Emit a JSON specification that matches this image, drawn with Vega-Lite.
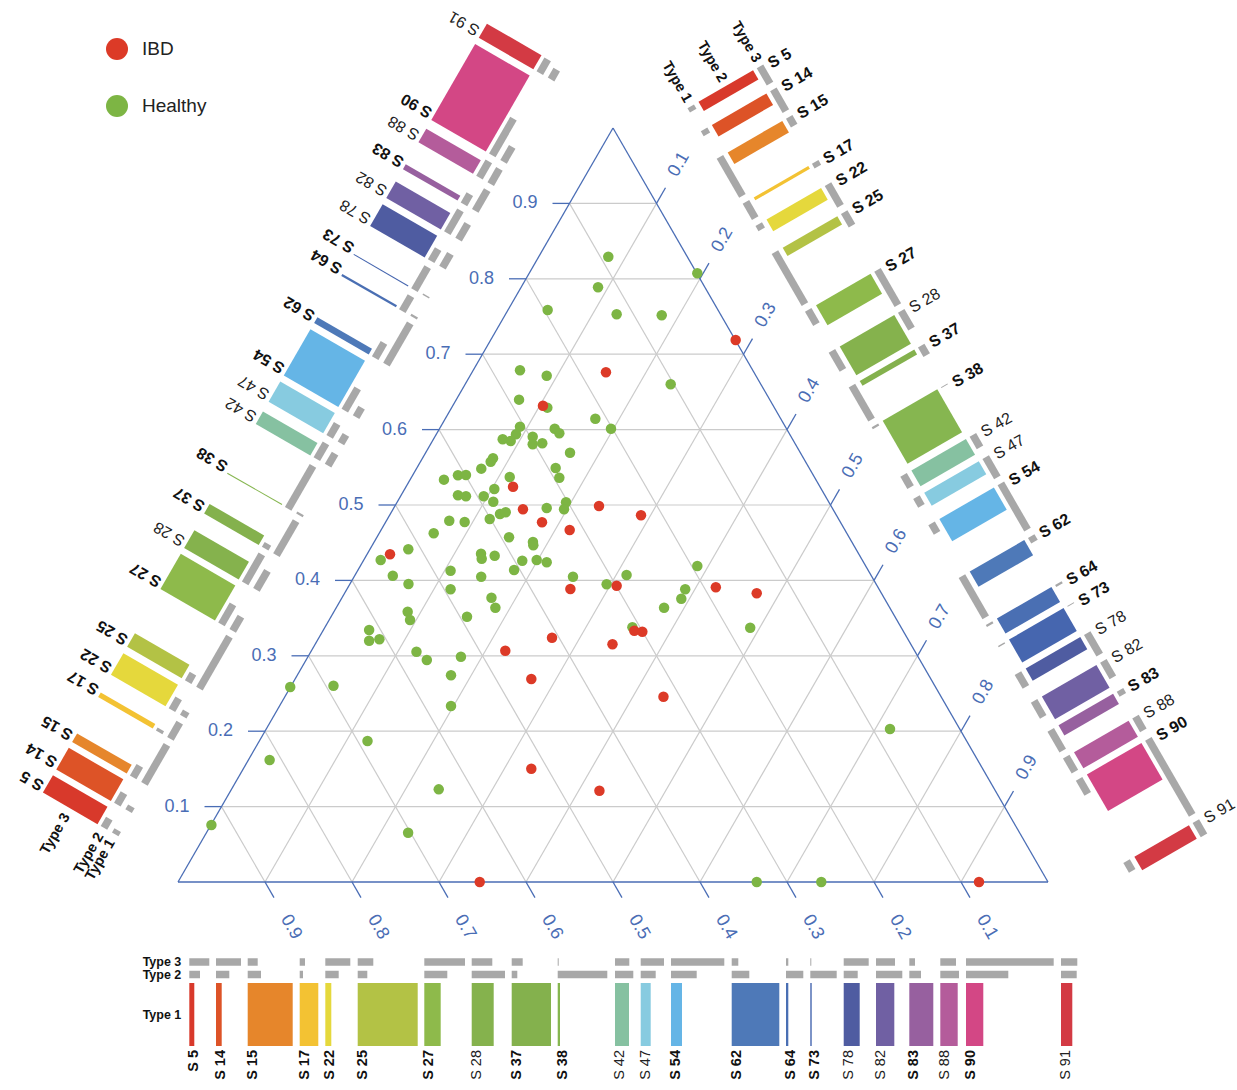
{
"$schema":"https://vega.github.io/schema/vega-lite/v6.json",
"width":1237,"height":1090,"autosize":"none","padding":0,"background":"white",
"config":{"view":{"stroke":null},"font":"Liberation Sans"},
"datasets":{
"grid":[
{"x":0.05,"y":0.1,"x2":0.95,"y2":0.1},{"x":0.1,"y":0.2,"x2":0.9,"y2":0.2},{"x":0.15,"y":0.3,"x2":0.85,"y2":0.3},{"x":0.2,"y":0.4,"x2":0.8,"y2":0.4},{"x":0.25,"y":0.5,"x2":0.75,"y2":0.5},{"x":0.3,"y":0.6,"x2":0.7,"y2":0.6},{"x":0.35,"y":0.7,"x2":0.65,"y2":0.7},{"x":0.4,"y":0.8,"x2":0.6,"y2":0.8},{"x":0.45,"y":0.9,"x2":0.55,"y2":0.9},
{"x":0.1,"y":0,"x2":0.55,"y2":0.9},{"x":0.2,"y":0,"x2":0.6,"y2":0.8},{"x":0.3,"y":0,"x2":0.65,"y2":0.7},{"x":0.4,"y":0,"x2":0.7,"y2":0.6},{"x":0.5,"y":0,"x2":0.75,"y2":0.5},{"x":0.6,"y":0,"x2":0.8,"y2":0.4},{"x":0.7,"y":0,"x2":0.85,"y2":0.3},{"x":0.8,"y":0,"x2":0.9,"y2":0.2},{"x":0.9,"y":0,"x2":0.95,"y2":0.1},
{"x":0.1,"y":0,"x2":0.05,"y2":0.1},{"x":0.2,"y":0,"x2":0.1,"y2":0.2},{"x":0.3,"y":0,"x2":0.15,"y2":0.3},{"x":0.4,"y":0,"x2":0.2,"y2":0.4},{"x":0.5,"y":0,"x2":0.25,"y2":0.5},{"x":0.6,"y":0,"x2":0.3,"y2":0.6},{"x":0.7,"y":0,"x2":0.35,"y2":0.7},{"x":0.8,"y":0,"x2":0.4,"y2":0.8},{"x":0.9,"y":0,"x2":0.45,"y2":0.9}
],
"edges":[{"x":0,"y":0,"x2":1,"y2":0},{"x":0,"y":0,"x2":0.5,"y2":1},{"x":0.5,"y":1,"x2":1,"y2":0}],
"axes":[
{"axis":"L","label":"0.1","x":0.05,"y":0.1,"x2":0.03046,"y2":0.1},{"axis":"L","label":"0.2","x":0.1,"y":0.2,"x2":0.08046,"y2":0.2},{"axis":"L","label":"0.3","x":0.15,"y":0.3,"x2":0.13046,"y2":0.3},{"axis":"L","label":"0.4","x":0.2,"y":0.4,"x2":0.18046,"y2":0.4},{"axis":"L","label":"0.5","x":0.25,"y":0.5,"x2":0.23046,"y2":0.5},{"axis":"L","label":"0.6","x":0.3,"y":0.6,"x2":0.28046,"y2":0.6},{"axis":"L","label":"0.7","x":0.35,"y":0.7,"x2":0.33046,"y2":0.7},{"axis":"L","label":"0.8","x":0.4,"y":0.8,"x2":0.38046,"y2":0.8},{"axis":"L","label":"0.9","x":0.45,"y":0.9,"x2":0.43046,"y2":0.9},
{"axis":"B","label":"0.1","x":0.9,"y":0,"x2":0.91034,"y2":-0.02069},{"axis":"B","label":"0.2","x":0.8,"y":0,"x2":0.81034,"y2":-0.02069},{"axis":"B","label":"0.3","x":0.7,"y":0,"x2":0.71034,"y2":-0.02069},{"axis":"B","label":"0.4","x":0.6,"y":0,"x2":0.61034,"y2":-0.02069},{"axis":"B","label":"0.5","x":0.5,"y":0,"x2":0.51034,"y2":-0.02069},{"axis":"B","label":"0.6","x":0.4,"y":0,"x2":0.41034,"y2":-0.02069},{"axis":"B","label":"0.7","x":0.3,"y":0,"x2":0.31034,"y2":-0.02069},{"axis":"B","label":"0.8","x":0.2,"y":0,"x2":0.21034,"y2":-0.02069},{"axis":"B","label":"0.9","x":0.1,"y":0,"x2":0.11034,"y2":-0.02069},
{"axis":"R","label":"0.1","x":0.55,"y":0.9,"x2":0.56034,"y2":0.92069},{"axis":"R","label":"0.2","x":0.6,"y":0.8,"x2":0.61034,"y2":0.82069},{"axis":"R","label":"0.3","x":0.65,"y":0.7,"x2":0.66034,"y2":0.72069},{"axis":"R","label":"0.4","x":0.7,"y":0.6,"x2":0.71034,"y2":0.62069},{"axis":"R","label":"0.5","x":0.75,"y":0.5,"x2":0.76034,"y2":0.52069},{"axis":"R","label":"0.6","x":0.8,"y":0.4,"x2":0.81034,"y2":0.42069},{"axis":"R","label":"0.7","x":0.85,"y":0.3,"x2":0.86034,"y2":0.32069},{"axis":"R","label":"0.8","x":0.9,"y":0.2,"x2":0.91034,"y2":0.22069},{"axis":"R","label":"0.9","x":0.95,"y":0.1,"x2":0.96034,"y2":0.12069}
],
"points":[
{"group":"Healthy","x":0.4946,"y":0.8293},{"group":"Healthy","x":0.5969,"y":0.8073},{"group":"Healthy","x":0.4828,"y":0.7887},{"group":"Healthy","x":0.4249,"y":0.7586},{"group":"Healthy","x":0.5042,"y":0.7529},{"group":"Healthy","x":0.556,"y":0.7516},{"group":"Healthy","x":0.3931,"y":0.6787},{"group":"Healthy","x":0.4238,"y":0.6715},{"group":"Healthy","x":0.5663,"y":0.6601},{"group":"Healthy","x":0.392,"y":0.6397},
{"group":"Healthy","x":0.4245,"y":0.6291},{"group":"Healthy","x":0.4797,"y":0.6145},{"group":"Healthy","x":0.4977,"y":0.6012},{"group":"Healthy","x":0.3931,"y":0.6039},{"group":"Healthy","x":0.3885,"y":0.5938},{"group":"Healthy","x":0.3732,"y":0.5871},{"group":"Healthy","x":0.3824,"y":0.5849},{"group":"Healthy","x":0.4077,"y":0.5906},{"group":"Healthy","x":0.4077,"y":0.5805},{"group":"Healthy","x":0.4187,"y":0.5818},
{"group":"Healthy","x":0.433,"y":0.6012},{"group":"Healthy","x":0.4383,"y":0.5951},{"group":"Healthy","x":0.4506,"y":0.5694},{"group":"Healthy","x":0.3621,"y":0.5619},{"group":"Healthy","x":0.3594,"y":0.5574},{"group":"Healthy","x":0.3486,"y":0.5482},{"group":"Healthy","x":0.4341,"y":0.5491},{"group":"Healthy","x":0.4383,"y":0.5362},{"group":"Healthy","x":0.3057,"y":0.5336},{"group":"Healthy","x":0.3218,"y":0.5394},
{"group":"Healthy","x":0.331,"y":0.5398},{"group":"Healthy","x":0.3813,"y":0.5371},{"group":"Healthy","x":0.3218,"y":0.5129},{"group":"Healthy","x":0.331,"y":0.5116},{"group":"Healthy","x":0.3514,"y":0.5116},{"group":"Healthy","x":0.3636,"y":0.5212},{"group":"Healthy","x":0.3624,"y":0.5044},{"group":"Healthy","x":0.4238,"y":0.496},{"group":"Healthy","x":0.446,"y":0.5036},{"group":"Healthy","x":0.4437,"y":0.4943},
{"group":"Healthy","x":0.3701,"y":0.4881},{"group":"Healthy","x":0.3767,"y":0.4903},{"group":"Healthy","x":0.3583,"y":0.4814},{"group":"Healthy","x":0.3118,"y":0.4792},{"group":"Healthy","x":0.3295,"y":0.4775},{"group":"Healthy","x":0.2939,"y":0.4625},{"group":"Healthy","x":0.2647,"y":0.4413},{"group":"Healthy","x":0.233,"y":0.4271},{"group":"Healthy","x":0.3805,"y":0.4572},{"group":"Healthy","x":0.408,"y":0.4509},
{"group":"Healthy","x":0.4084,"y":0.4466},{"group":"Healthy","x":0.3483,"y":0.4354},{"group":"Healthy","x":0.3491,"y":0.4288},{"group":"Healthy","x":0.364,"y":0.4328},{"group":"Healthy","x":0.3957,"y":0.4261},{"group":"Healthy","x":0.4123,"y":0.4271},{"group":"Healthy","x":0.4238,"y":0.424},{"group":"Healthy","x":0.5969,"y":0.4191},{"group":"Healthy","x":0.3133,"y":0.4129},{"group":"Healthy","x":0.2469,"y":0.4062},
{"group":"Healthy","x":0.2649,"y":0.3952},{"group":"Healthy","x":0.3133,"y":0.3882},{"group":"Healthy","x":0.3485,"y":0.4049},{"group":"Healthy","x":0.3863,"y":0.4138},{"group":"Healthy","x":0.454,"y":0.4049},{"group":"Healthy","x":0.5156,"y":0.4072},{"group":"Healthy","x":0.4927,"y":0.3948},{"group":"Healthy","x":0.583,"y":0.3882},{"group":"Healthy","x":0.5785,"y":0.3757},{"group":"Healthy","x":0.5587,"y":0.3638},
{"group":"Healthy","x":0.3603,"y":0.3771},{"group":"Healthy","x":0.3648,"y":0.3638},{"group":"Healthy","x":0.3322,"y":0.3519},{"group":"Healthy","x":0.264,"y":0.3585},{"group":"Healthy","x":0.2667,"y":0.3475},{"group":"Healthy","x":0.2197,"y":0.3342},{"group":"Healthy","x":0.2197,"y":0.32},{"group":"Healthy","x":0.2315,"y":0.3219},{"group":"Healthy","x":0.2741,"y":0.3054},{"group":"Healthy","x":0.286,"y":0.2944},
{"group":"Healthy","x":0.3252,"y":0.2988},{"group":"Healthy","x":0.5223,"y":0.3378},{"group":"Healthy","x":0.6577,"y":0.3373},{"group":"Healthy","x":0.129,"y":0.2586},{"group":"Healthy","x":0.1787,"y":0.2603},{"group":"Healthy","x":0.3138,"y":0.2741},{"group":"Healthy","x":0.3138,"y":0.2334},{"group":"Healthy","x":0.2178,"y":0.187},{"group":"Healthy","x":0.1053,"y":0.1618},{"group":"Healthy","x":0.2997,"y":0.1229},
{"group":"Healthy","x":0.0384,"y":0.0756},{"group":"Healthy","x":0.2645,"y":0.0654},{"group":"Healthy","x":0.6652,"y":0},{"group":"Healthy","x":0.7394,"y":0},{"group":"Healthy","x":0.8184,"y":0.2029},
{"group":"IBD","x":0.4919,"y":0.676},{"group":"IBD","x":0.4195,"y":0.6317},{"group":"IBD","x":0.3851,"y":0.5243},{"group":"IBD","x":0.3965,"y":0.4943},{"group":"IBD","x":0.4184,"y":0.4771},{"group":"IBD","x":0.4502,"y":0.4668},{"group":"IBD","x":0.4839,"y":0.4987},{"group":"IBD","x":0.5322,"y":0.4864},{"group":"IBD","x":0.2437,"y":0.4346},{"group":"IBD","x":0.641,"y":0.7189},
{"group":"IBD","x":0.451,"y":0.3886},{"group":"IBD","x":0.5042,"y":0.393},{"group":"IBD","x":0.6182,"y":0.3909},{"group":"IBD","x":0.6652,"y":0.3829},{"group":"IBD","x":0.5245,"y":0.3333},{"group":"IBD","x":0.5337,"y":0.332},{"group":"IBD","x":0.4299,"y":0.324},{"group":"IBD","x":0.4994,"y":0.3153},{"group":"IBD","x":0.3762,"y":0.3068},{"group":"IBD","x":0.4061,"y":0.2692},
{"group":"IBD","x":0.558,"y":0.2458},{"group":"IBD","x":0.4061,"y":0.1503},{"group":"IBD","x":0.4844,"y":0.1211},{"group":"IBD","x":0.3468,"y":0},{"group":"IBD","x":0.9207,"y":0}
],
"bars":[
{"side":"B","sample":"S 5","type":"Type 1","x":0.01299,"y":-0.17573,"x2":0.01873,"y2":-0.17573},{"side":"B","sample":"S 5","type":"Type 2","x":0.01299,"y":-0.12268,"x2":0.02529,"y2":-0.12268},{"side":"B","sample":"S 5","type":"Type 3","x":0.01299,"y":-0.1061,"x2":0.03598,"y2":-0.1061},
{"side":"B","sample":"S 14","type":"Type 1","x":0.04368,"y":-0.17573,"x2":0.05023,"y2":-0.17573},{"side":"B","sample":"S 14","type":"Type 2","x":0.04368,"y":-0.12268,"x2":0.05896,"y2":-0.12268},{"side":"B","sample":"S 14","type":"Type 3","x":0.04368,"y":-0.1061,"x2":0.07241,"y2":-0.1061},
{"side":"B","sample":"S 15","type":"Type 1","x":0.08011,"y":-0.17573,"x2":0.13184,"y2":-0.17573},{"side":"B","sample":"S 15","type":"Type 2","x":0.08011,"y":-0.12268,"x2":0.0954,"y2":-0.12268},{"side":"B","sample":"S 15","type":"Type 3","x":0.08011,"y":-0.1061,"x2":0.09161,"y2":-0.1061},
{"side":"B","sample":"S 17","type":"Type 1","x":0.13988,"y":-0.17573,"x2":0.16126,"y2":-0.17573},{"side":"B","sample":"S 17","type":"Type 2","x":0.13988,"y":-0.12268,"x2":0.14368,"y2":-0.12268},{"side":"B","sample":"S 17","type":"Type 3","x":0.13988,"y":-0.1061,"x2":0.14598,"y2":-0.1061},
{"side":"B","sample":"S 22","type":"Type 1","x":0.16931,"y":-0.17573,"x2":0.17621,"y2":-0.17573},{"side":"B","sample":"S 22","type":"Type 2","x":0.16931,"y":-0.12268,"x2":0.18471,"y2":-0.12268},{"side":"B","sample":"S 22","type":"Type 3","x":0.16931,"y":-0.1061,"x2":0.19805,"y2":-0.1061},
{"side":"B","sample":"S 25","type":"Type 1","x":0.20655,"y":-0.17573,"x2":0.27552,"y2":-0.17573},{"side":"B","sample":"S 25","type":"Type 2","x":0.20655,"y":-0.12268,"x2":0.21759,"y2":-0.12268},{"side":"B","sample":"S 25","type":"Type 3","x":0.20655,"y":-0.1061,"x2":0.22448,"y2":-0.1061},
{"side":"B","sample":"S 27","type":"Type 1","x":0.2831,"y":-0.17573,"x2":0.30195,"y2":-0.17573},{"side":"B","sample":"S 27","type":"Type 2","x":0.2831,"y":-0.12268,"x2":0.30954,"y2":-0.12268},{"side":"B","sample":"S 27","type":"Type 3","x":0.2831,"y":-0.1061,"x2":0.32988,"y2":-0.1061},
{"side":"B","sample":"S 28","type":"Type 1","x":0.33759,"y":-0.17573,"x2":0.36287,"y2":-0.17573},{"side":"B","sample":"S 28","type":"Type 2","x":0.33759,"y":-0.12268,"x2":0.37586,"y2":-0.12268},{"side":"B","sample":"S 28","type":"Type 3","x":0.33759,"y":-0.1061,"x2":0.36126,"y2":-0.1061},
{"side":"B","sample":"S 37","type":"Type 1","x":0.38356,"y":-0.17573,"x2":0.42874,"y2":-0.17573},{"side":"B","sample":"S 37","type":"Type 2","x":0.38356,"y":-0.12268,"x2":0.39,"y2":-0.12268},{"side":"B","sample":"S 37","type":"Type 3","x":0.38356,"y":-0.1061,"x2":0.39621,"y2":-0.1061},
{"side":"B","sample":"S 38","type":"Type 1","x":0.43644,"y":-0.17573,"x2":0.43908,"y2":-0.17573},{"side":"B","sample":"S 38","type":"Type 2","x":0.43644,"y":-0.12268,"x2":0.49345,"y2":-0.12268},{"side":"B","sample":"S 38","type":"Type 3","x":0.43644,"y":-0.1061,"x2":0.43759,"y2":-0.1061},
{"side":"B","sample":"S 42","type":"Type 1","x":0.5023,"y":-0.17573,"x2":0.51839,"y2":-0.17573},{"side":"B","sample":"S 42","type":"Type 2","x":0.5023,"y":-0.12268,"x2":0.52333,"y2":-0.12268},{"side":"B","sample":"S 42","type":"Type 3","x":0.5023,"y":-0.1061,"x2":0.51874,"y2":-0.1061},
{"side":"B","sample":"S 47","type":"Type 1","x":0.53184,"y":-0.17573,"x2":0.54333,"y2":-0.17573},{"side":"B","sample":"S 47","type":"Type 2","x":0.53184,"y":-0.12268,"x2":0.54908,"y2":-0.12268},{"side":"B","sample":"S 47","type":"Type 3","x":0.53184,"y":-0.1061,"x2":0.55862,"y2":-0.1061},
{"side":"B","sample":"S 54","type":"Type 1","x":0.56667,"y":-0.17573,"x2":0.57931,"y2":-0.17573},{"side":"B","sample":"S 54","type":"Type 2","x":0.56667,"y":-0.12268,"x2":0.59621,"y2":-0.12268},{"side":"B","sample":"S 54","type":"Type 3","x":0.56667,"y":-0.1061,"x2":0.62793,"y2":-0.1061},
{"side":"B","sample":"S 62","type":"Type 1","x":0.63644,"y":-0.17573,"x2":0.69115,"y2":-0.17573},{"side":"B","sample":"S 62","type":"Type 2","x":0.63644,"y":-0.12268,"x2":0.65667,"y2":-0.12268},{"side":"B","sample":"S 62","type":"Type 3","x":0.63644,"y":-0.1061,"x2":0.64402,"y2":-0.1061},
{"side":"B","sample":"S 64","type":"Type 1","x":0.69885,"y":-0.17573,"x2":0.7015,"y2":-0.17573},{"side":"B","sample":"S 64","type":"Type 2","x":0.69885,"y":-0.12268,"x2":0.71874,"y2":-0.12268},{"side":"B","sample":"S 64","type":"Type 3","x":0.69885,"y":-0.1061,"x2":0.7015,"y2":-0.1061},
{"side":"B","sample":"S 73","type":"Type 1","x":0.72678,"y":-0.17573,"x2":0.72839,"y2":-0.17573},{"side":"B","sample":"S 73","type":"Type 2","x":0.72678,"y":-0.12268,"x2":0.75713,"y2":-0.12268},{"side":"B","sample":"S 73","type":"Type 3","x":0.72678,"y":-0.1061,"x2":0.72793,"y2":-0.1061},
{"side":"B","sample":"S 78","type":"Type 1","x":0.76517,"y":-0.17573,"x2":0.78357,"y2":-0.17573},{"side":"B","sample":"S 78","type":"Type 2","x":0.76517,"y":-0.12268,"x2":0.78127,"y2":-0.12268},{"side":"B","sample":"S 78","type":"Type 3","x":0.76517,"y":-0.1061,"x2":0.79391,"y2":-0.1061},
{"side":"B","sample":"S 82","type":"Type 1","x":0.8023,"y":-0.17573,"x2":0.82334,"y2":-0.17573},{"side":"B","sample":"S 82","type":"Type 2","x":0.8023,"y":-0.12268,"x2":0.83253,"y2":-0.12268},{"side":"B","sample":"S 82","type":"Type 3","x":0.8023,"y":-0.1061,"x2":0.82414,"y2":-0.1061},
{"side":"B","sample":"S 83","type":"Type 1","x":0.84058,"y":-0.17573,"x2":0.86816,"y2":-0.17573},{"side":"B","sample":"S 83","type":"Type 2","x":0.84058,"y":-0.12268,"x2":0.85402,"y2":-0.12268},{"side":"B","sample":"S 83","type":"Type 3","x":0.84058,"y":-0.1061,"x2":0.84713,"y2":-0.1061},
{"side":"B","sample":"S 88","type":"Type 1","x":0.87621,"y":-0.17573,"x2":0.89621,"y2":-0.17573},{"side":"B","sample":"S 88","type":"Type 2","x":0.87621,"y":-0.12268,"x2":0.8977,"y2":-0.12268},{"side":"B","sample":"S 88","type":"Type 3","x":0.87621,"y":-0.1061,"x2":0.89425,"y2":-0.1061},
{"side":"B","sample":"S 90","type":"Type 1","x":0.90575,"y":-0.17573,"x2":0.92563,"y2":-0.17573},{"side":"B","sample":"S 90","type":"Type 2","x":0.90575,"y":-0.12268,"x2":0.95437,"y2":-0.12268},{"side":"B","sample":"S 90","type":"Type 3","x":0.90575,"y":-0.1061,"x2":1.00655,"y2":-0.1061},
{"side":"B","sample":"S 91","type":"Type 1","x":1.01495,"y":-0.17573,"x2":1.02793,"y2":-0.17573},{"side":"B","sample":"S 91","type":"Type 2","x":1.01495,"y":-0.12268,"x2":1.03299,"y2":-0.12268},{"side":"B","sample":"S 91","type":"Type 3","x":1.01495,"y":-0.1061,"x2":1.03368,"y2":-0.1061},

{"side":"L","sample":"S 5","type":"Type 1","x":-0.07216,"y":0.06317,"x2":-0.06928,"y2":0.06891},{"side":"L","sample":"S 5","type":"Type 2","x":-0.08511,"y":0.07179,"x2":-0.07896,"y2":0.08408},{"side":"L","sample":"S 5","type":"Type 3","x":-0.12391,"y":0.09765,"x2":-0.11241,"y2":0.12062},
{"side":"L","sample":"S 14","type":"Type 1","x":-0.05681,"y":0.09384,"x2":-0.05354,"y2":0.10038},{"side":"L","sample":"S 14","type":"Type 2","x":-0.06976,"y":0.10246,"x2":-0.06212,"y2":0.11773},{"side":"L","sample":"S 14","type":"Type 3","x":-0.10856,"y":0.12832,"x2":-0.09419,"y2":0.15703},
{"side":"L","sample":"S 15","type":"Type 1","x":-0.03859,"y":0.13024,"x2":-0.01273,"y2":0.18193},{"side":"L","sample":"S 15","type":"Type 2","x":-0.05154,"y":0.13886,"x2":-0.0439,"y2":0.15414},{"side":"L","sample":"S 15","type":"Type 3","x":-0.09034,"y":0.16472,"x2":-0.0846,"y2":0.17621},
{"side":"L","sample":"S 17","type":"Type 1","x":-0.00871,"y":0.18996,"x2":0.00198,"y2":0.21132},{"side":"L","sample":"S 17","type":"Type 2","x":-0.02166,"y":0.19858,"x2":-0.01976,"y2":0.20238},{"side":"L","sample":"S 17","type":"Type 3","x":-0.06046,"y":0.22444,"x2":-0.05741,"y2":0.23054},
{"side":"L","sample":"S 22","type":"Type 1","x":0.00601,"y":0.21937,"x2":0.00945,"y2":0.22626},{"side":"L","sample":"S 22","type":"Type 2","x":-0.00694,"y":0.22799,"x2":0.00076,"y2":0.24338},{"side":"L","sample":"S 22","type":"Type 3","x":-0.04574,"y":0.25385,"x2":-0.03138,"y2":0.28256},
{"side":"L","sample":"S 25","type":"Type 1","x":0.02463,"y":0.25658,"x2":0.05911,"y2":0.32549},{"side":"L","sample":"S 25","type":"Type 2","x":0.01168,"y":0.2652,"x2":0.01719,"y2":0.27623},{"side":"L","sample":"S 25","type":"Type 3","x":-0.02712,"y":0.29106,"x2":-0.01816,"y2":0.30897},
{"side":"L","sample":"S 27","type":"Type 1","x":0.0629,"y":0.33307,"x2":0.07233,"y2":0.3519},{"side":"L","sample":"S 27","type":"Type 2","x":0.04995,"y":0.34169,"x2":0.06317,"y2":0.3681},{"side":"L","sample":"S 27","type":"Type 3","x":0.01115,"y":0.36755,"x2":0.03454,"y2":0.41429},
{"side":"L","sample":"S 28","type":"Type 1","x":0.09014,"y":0.38751,"x2":0.10279,"y2":0.41277},{"side":"L","sample":"S 28","type":"Type 2","x":0.07719,"y":0.39613,"x2":0.09633,"y2":0.43437},{"side":"L","sample":"S 28","type":"Type 3","x":0.03839,"y":0.42199,"x2":0.05023,"y2":0.44564},
{"side":"L","sample":"S 37","type":"Type 1","x":0.11313,"y":0.43344,"x2":0.13572,"y2":0.47859},{"side":"L","sample":"S 37","type":"Type 2","x":0.10018,"y":0.44206,"x2":0.1034,"y2":0.4485},{"side":"L","sample":"S 37","type":"Type 3","x":0.06138,"y":0.46792,"x2":0.0677,"y2":0.48056},
{"side":"L","sample":"S 38","type":"Type 1","x":0.13957,"y":0.48628,"x2":0.14089,"y2":0.48892},{"side":"L","sample":"S 38","type":"Type 2","x":0.12662,"y":0.4949,"x2":0.15512,"y2":0.55187},{"side":"L","sample":"S 38","type":"Type 3","x":0.08782,"y":0.52076,"x2":0.08839,"y2":0.52191},
{"side":"L","sample":"S 42","type":"Type 1","x":0.1725,"y":0.55209,"x2":0.18055,"y2":0.56817},{"side":"L","sample":"S 42","type":"Type 2","x":0.15955,"y":0.56071,"x2":0.17007,"y2":0.58172},{"side":"L","sample":"S 42","type":"Type 3","x":0.12075,"y":0.58657,"x2":0.12897,"y2":0.60299},
{"side":"L","sample":"S 47","type":"Type 1","x":0.18727,"y":0.5816,"x2":0.19302,"y2":0.59309},{"side":"L","sample":"S 47","type":"Type 2","x":0.17432,"y":0.59022,"x2":0.18294,"y2":0.60745},{"side":"L","sample":"S 47","type":"Type 3","x":0.13552,"y":0.61608,"x2":0.14891,"y2":0.64284},
{"side":"L","sample":"S 54","type":"Type 1","x":0.20468,"y":0.61641,"x2":0.21101,"y2":0.62904},{"side":"L","sample":"S 54","type":"Type 2","x":0.19173,"y":0.62503,"x2":0.2065,"y2":0.65454},{"side":"L","sample":"S 54","type":"Type 3","x":0.15293,"y":0.65089,"x2":0.18357,"y2":0.7121},
{"side":"L","sample":"S 62","type":"Type 1","x":0.23957,"y":0.68612,"x2":0.26693,"y2":0.74079},{"side":"L","sample":"S 62","type":"Type 2","x":0.22662,"y":0.69474,"x2":0.23673,"y2":0.71495},{"side":"L","sample":"S 62","type":"Type 3","x":0.18782,"y":0.7206,"x2":0.19161,"y2":0.72817},
{"side":"L","sample":"S 64","type":"Type 1","x":0.27078,"y":0.74848,"x2":0.2721,"y2":0.75113},{"side":"L","sample":"S 64","type":"Type 2","x":0.25783,"y":0.7571,"x2":0.26777,"y2":0.77697},{"side":"L","sample":"S 64","type":"Type 3","x":0.21903,"y":0.78296,"x2":0.22035,"y2":0.78561},
{"side":"L","sample":"S 73","type":"Type 1","x":0.28474,"y":0.77639,"x2":0.28555,"y2":0.778},{"side":"L","sample":"S 73","type":"Type 2","x":0.27179,"y":0.78501,"x2":0.28697,"y2":0.81533},{"side":"L","sample":"S 73","type":"Type 3","x":0.23299,"y":0.81087,"x2":0.23357,"y2":0.81202},
{"side":"L","sample":"S 78","type":"Type 1","x":0.30394,"y":0.81475,"x2":0.31313,"y2":0.83313},{"side":"L","sample":"S 78","type":"Type 2","x":0.29099,"y":0.82337,"x2":0.29903,"y2":0.83945},{"side":"L","sample":"S 78","type":"Type 3","x":0.25219,"y":0.84923,"x2":0.26656,"y2":0.87794},
{"side":"L","sample":"S 82","type":"Type 1","x":0.3225,"y":0.85185,"x2":0.33302,"y2":0.87287},{"side":"L","sample":"S 82","type":"Type 2","x":0.30955,"y":0.86047,"x2":0.32467,"y2":0.89067},{"side":"L","sample":"S 82","type":"Type 3","x":0.27075,"y":0.88633,"x2":0.28167,"y2":0.90815},
{"side":"L","sample":"S 83","type":"Type 1","x":0.34164,"y":0.89009,"x2":0.35543,"y2":0.91765},{"side":"L","sample":"S 83","type":"Type 2","x":0.32869,"y":0.89871,"x2":0.33541,"y2":0.91215},{"side":"L","sample":"S 83","type":"Type 3","x":0.28989,"y":0.92457,"x2":0.29316,"y2":0.93112},
{"side":"L","sample":"S 88","type":"Type 1","x":0.35945,"y":0.9257,"x2":0.36945,"y2":0.94568},{"side":"L","sample":"S 88","type":"Type 2","x":0.3465,"y":0.93432,"x2":0.35725,"y2":0.95579},{"side":"L","sample":"S 88","type":"Type 3","x":0.3077,"y":0.96018,"x2":0.31673,"y2":0.97821},
{"side":"L","sample":"S 90","type":"Type 1","x":0.37422,"y":0.95521,"x2":0.38417,"y2":0.97508},{"side":"L","sample":"S 90","type":"Type 2","x":0.36127,"y":0.96383,"x2":0.38559,"y2":1.01241},{"side":"L","sample":"S 90","type":"Type 3","x":0.32247,"y":0.98969,"x2":0.37288,"y2":1.09041},
{"side":"L","sample":"S 91","type":"Type 1","x":0.42882,"y":1.06432,"x2":0.43532,"y2":1.07729},{"side":"L","sample":"S 91","type":"Type 2","x":0.41587,"y":1.07294,"x2":0.4249,"y2":1.09097},{"side":"L","sample":"S 91","type":"Type 3","x":0.37707,"y":1.0988,"x2":0.38644,"y2":1.11752},

{"side":"R","sample":"S 5","type":"Type 1","x":0.58933,"y":1.02874,"x2":0.59221,"y2":1.023},{"side":"R","sample":"S 5","type":"Type 2","x":0.62964,"y":1.0556,"x2":0.63579,"y2":1.04331},{"side":"R","sample":"S 5","type":"Type 3","x":0.66896,"y":1.08179,"x2":0.68046,"y2":1.05882},
{"side":"R","sample":"S 14","type":"Type 1","x":0.60468,"y":0.99807,"x2":0.60795,"y2":0.99153},{"side":"R","sample":"S 14","type":"Type 2","x":0.64499,"y":1.02493,"x2":0.65263,"y2":1.00966},{"side":"R","sample":"S 14","type":"Type 3","x":0.68431,"y":1.05112,"x2":0.69868,"y2":1.02241},
{"side":"R","sample":"S 15","type":"Type 1","x":0.6229,"y":0.96167,"x2":0.64876,"y2":0.90998},{"side":"R","sample":"S 15","type":"Type 2","x":0.66321,"y":0.98853,"x2":0.67085,"y2":0.97325},{"side":"R","sample":"S 15","type":"Type 3","x":0.70253,"y":1.01472,"x2":0.70827,"y2":1.00323},
{"side":"R","sample":"S 17","type":"Type 1","x":0.65278,"y":0.90195,"x2":0.66347,"y2":0.88059},{"side":"R","sample":"S 17","type":"Type 2","x":0.69309,"y":0.92881,"x2":0.69499,"y2":0.92501},{"side":"R","sample":"S 17","type":"Type 3","x":0.73241,"y":0.955,"x2":0.73546,"y2":0.9489},
{"side":"R","sample":"S 22","type":"Type 1","x":0.6675,"y":0.87254,"x2":0.67094,"y2":0.86565},{"side":"R","sample":"S 22","type":"Type 2","x":0.70781,"y":0.8994,"x2":0.71551,"y2":0.88401},{"side":"R","sample":"S 22","type":"Type 3","x":0.74713,"y":0.92559,"x2":0.76149,"y2":0.89688},
{"side":"R","sample":"S 25","type":"Type 1","x":0.68612,"y":0.83533,"x2":0.7206,"y2":0.76642},{"side":"R","sample":"S 25","type":"Type 2","x":0.72643,"y":0.86219,"x2":0.73194,"y2":0.85116},{"side":"R","sample":"S 25","type":"Type 3","x":0.76575,"y":0.88838,"x2":0.77471,"y2":0.87047},
{"side":"R","sample":"S 27","type":"Type 1","x":0.72439,"y":0.75884,"x2":0.73382,"y2":0.74001},{"side":"R","sample":"S 27","type":"Type 2","x":0.7647,"y":0.7857,"x2":0.77792,"y2":0.75929},{"side":"R","sample":"S 27","type":"Type 3","x":0.80402,"y":0.81189,"x2":0.82741,"y2":0.76515},
{"side":"R","sample":"S 28","type":"Type 1","x":0.75163,"y":0.7044,"x2":0.76428,"y2":0.67914},{"side":"R","sample":"S 28","type":"Type 2","x":0.79194,"y":0.73126,"x2":0.81108,"y2":0.69302},{"side":"R","sample":"S 28","type":"Type 3","x":0.83126,"y":0.75745,"x2":0.8431,"y2":0.7338},
{"side":"R","sample":"S 37","type":"Type 1","x":0.77462,"y":0.65847,"x2":0.79721,"y2":0.61332},{"side":"R","sample":"S 37","type":"Type 2","x":0.81493,"y":0.68533,"x2":0.81815,"y2":0.67889},{"side":"R","sample":"S 37","type":"Type 3","x":0.85425,"y":0.71152,"x2":0.86057,"y2":0.69888},
{"side":"R","sample":"S 38","type":"Type 1","x":0.80106,"y":0.60563,"x2":0.80238,"y2":0.60299},{"side":"R","sample":"S 38","type":"Type 2","x":0.84137,"y":0.63249,"x2":0.86987,"y2":0.57552},{"side":"R","sample":"S 38","type":"Type 3","x":0.88069,"y":0.65868,"x2":0.88126,"y2":0.65753},
{"side":"R","sample":"S 42","type":"Type 1","x":0.83399,"y":0.53982,"x2":0.84204,"y2":0.52374},{"side":"R","sample":"S 42","type":"Type 2","x":0.8743,"y":0.56668,"x2":0.88482,"y2":0.54567},{"side":"R","sample":"S 42","type":"Type 3","x":0.91362,"y":0.59287,"x2":0.92184,"y2":0.57645},
{"side":"R","sample":"S 47","type":"Type 1","x":0.84876,"y":0.51031,"x2":0.85451,"y2":0.49882},{"side":"R","sample":"S 47","type":"Type 2","x":0.88907,"y":0.53717,"x2":0.89769,"y2":0.51994},{"side":"R","sample":"S 47","type":"Type 3","x":0.92839,"y":0.56336,"x2":0.94178,"y2":0.5366},
{"side":"R","sample":"S 54","type":"Type 1","x":0.86617,"y":0.4755,"x2":0.8725,"y2":0.46287},{"side":"R","sample":"S 54","type":"Type 2","x":0.90648,"y":0.50236,"x2":0.92125,"y2":0.47285},{"side":"R","sample":"S 54","type":"Type 3","x":0.9458,"y":0.52855,"x2":0.97644,"y2":0.46734},
{"side":"R","sample":"S 62","type":"Type 1","x":0.90106,"y":0.40579,"x2":0.92842,"y2":0.35112},{"side":"R","sample":"S 62","type":"Type 2","x":0.94137,"y":0.43265,"x2":0.95148,"y2":0.41244},{"side":"R","sample":"S 62","type":"Type 3","x":0.98069,"y":0.45884,"x2":0.98448,"y2":0.45127},
{"side":"R","sample":"S 64","type":"Type 1","x":0.93227,"y":0.34343,"x2":0.93359,"y2":0.34078},{"side":"R","sample":"S 64","type":"Type 2","x":0.97258,"y":0.37029,"x2":0.98252,"y2":0.35042},{"side":"R","sample":"S 64","type":"Type 3","x":1.0119,"y":0.39648,"x2":1.01322,"y2":0.39383},
{"side":"R","sample":"S 73","type":"Type 1","x":0.94623,"y":0.31552,"x2":0.94704,"y2":0.31391},{"side":"R","sample":"S 73","type":"Type 2","x":0.98654,"y":0.34238,"x2":1.00172,"y2":0.31206},{"side":"R","sample":"S 73","type":"Type 3","x":1.02586,"y":0.36857,"x2":1.02644,"y2":0.36742},
{"side":"R","sample":"S 78","type":"Type 1","x":0.96543,"y":0.27716,"x2":0.97462,"y2":0.25878},{"side":"R","sample":"S 78","type":"Type 2","x":1.00574,"y":0.30402,"x2":1.01378,"y2":0.28794},{"side":"R","sample":"S 78","type":"Type 3","x":1.04506,"y":0.33021,"x2":1.05943,"y2":0.3015},
{"side":"R","sample":"S 82","type":"Type 1","x":0.98399,"y":0.24006,"x2":0.99451,"y2":0.21904},{"side":"R","sample":"S 82","type":"Type 2","x":1.0243,"y":0.26692,"x2":1.03942,"y2":0.23672},{"side":"R","sample":"S 82","type":"Type 3","x":1.06362,"y":0.29311,"x2":1.07454,"y2":0.27129},
{"side":"R","sample":"S 83","type":"Type 1","x":1.00313,"y":0.20182,"x2":1.01692,"y2":0.17426},{"side":"R","sample":"S 83","type":"Type 2","x":1.04344,"y":0.22868,"x2":1.05016,"y2":0.21524},{"side":"R","sample":"S 83","type":"Type 3","x":1.08276,"y":0.25487,"x2":1.08603,"y2":0.24832},
{"side":"R","sample":"S 88","type":"Type 1","x":1.02094,"y":0.16621,"x2":1.03094,"y2":0.14623},{"side":"R","sample":"S 88","type":"Type 2","x":1.06125,"y":0.19307,"x2":1.072,"y2":0.1716},{"side":"R","sample":"S 88","type":"Type 3","x":1.10057,"y":0.21926,"x2":1.1096,"y2":0.20123},
{"side":"R","sample":"S 90","type":"Type 1","x":1.03571,"y":0.1367,"x2":1.04566,"y2":0.11683},{"side":"R","sample":"S 90","type":"Type 2","x":1.07602,"y":0.16356,"x2":1.10034,"y2":0.11498},{"side":"R","sample":"S 90","type":"Type 3","x":1.11534,"y":0.18975,"x2":1.16575,"y2":0.08903},
{"side":"R","sample":"S 91","type":"Type 1","x":1.09031,"y":0.02759,"x2":1.09681,"y2":0.01462},{"side":"R","sample":"S 91","type":"Type 2","x":1.13062,"y":0.05445,"x2":1.13965,"y2":0.03642},{"side":"R","sample":"S 91","type":"Type 3","x":1.16994,"y":0.08064,"x2":1.17931,"y2":0.06192}
]
},
"encoding":{
"x":{"field":"x","type":"quantitative","scale":{"domain":[-0.2046,1.21724],"nice":false,"zero":false},"axis":null},
"y":{"field":"y","type":"quantitative","scale":{"domain":[-0.27586,1.16976],"nice":false,"zero":false},"axis":null}
},
"layer":[
{"data":{"name":"grid"},"mark":{"type":"rule","color":"#cbcbcb","strokeWidth":1.2},"encoding":{"x2":{"field":"x2"},"y2":{"field":"y2"}}},
{"data":{"name":"edges"},"mark":{"type":"rule","color":"#4a6db5","strokeWidth":1.3},"encoding":{"x2":{"field":"x2"},"y2":{"field":"y2"}}},
{"data":{"name":"axes"},"mark":{"type":"rule","color":"#4a6db5","strokeWidth":1.3},"encoding":{"x2":{"field":"x2"},"y2":{"field":"y2"}}},
{"data":{"name":"axes"},"transform":[{"filter":"datum.axis==='L'"}],"mark":{"type":"text","align":"right","baseline":"middle","dx":-32,"fontSize":18,"color":"#4a6db5"},"encoding":{"text":{"field":"label"}}},
{"data":{"name":"axes"},"transform":[{"filter":"datum.axis==='B'"}],"mark":{"type":"text","align":"center","baseline":"middle","angle":60,"dx":52,"fontSize":18,"color":"#4a6db5"},"encoding":{"text":{"field":"label"}}},
{"data":{"name":"axes"},"transform":[{"filter":"datum.axis==='R'"}],"mark":{"type":"text","align":"center","baseline":"middle","angle":300,"dx":45,"fontSize":18,"color":"#4a6db5"},"encoding":{"text":{"field":"label"}}},
{"data":{"name":"points"},"mark":{"type":"circle","size":110,"opacity":1},"encoding":{"color":{"field":"group","type":"nominal","scale":{"domain":["IBD","Healthy"],"range":["#dc3a27","#7db544"]},"legend":{"title":null,"orient":"none","legendX":106,"legendY":38,"symbolSize":484,"symbolType":"circle","symbolStrokeWidth":0,"labelFontSize":19,"labelOffset":14,"rowPadding":35,"labelColor":"#222222"}}}},
{"data":{"name":"bars"},"mark":{"type":"rule","strokeCap":"butt"},"encoding":{"x2":{"field":"x2"},"y2":{"field":"y2"},
 "size":{"condition":{"test":"(datum.side==='B'&&datum.type==='Type 1')||(datum.side==='L'&&datum.type==='Type 3')||(datum.side==='R'&&datum.type==='Type 2')","value":63},"value":7.5},
 "color":{"condition":{"test":"(datum.side==='B'&&datum.type==='Type 1')||(datum.side==='L'&&datum.type==='Type 3')||(datum.side==='R'&&datum.type==='Type 2')","field":"sample","type":"nominal","legend":null,"scale":{"domain":["S 5","S 14","S 15","S 17","S 22","S 25","S 27","S 28","S 37","S 38","S 42","S 47","S 54","S 62","S 64","S 73","S 78","S 82","S 83","S 88","S 90","S 91"],"range":["#d8392b","#dd5327","#e6862b","#f3c233","#e5d83c","#b3c245","#8eba4b","#85b24d","#84b14d","#86b650","#86c1a1","#87cbe0","#65b5e6","#4e79b8","#4a6fb3","#4666af","#4f5ca1","#7060a3","#97609f","#b45c9b","#d34785","#d33a44"]}},"value":"#a8a8a8"}}},
{"data":{"name":"bars"},"transform":[{"filter":"datum.side==='B'&&datum.type==='Type 1'&&indexof(['S 28','S 42','S 47','S 78','S 82','S 88','S 91'],datum.sample)<0"}],"mark":{"type":"text","angle":270,"align":"right","baseline":"middle","dx":-35.5,"dy":5,"fontSize":14.5,"fontWeight":"bold","color":"#111111"},"encoding":{"text":{"field":"sample"}}},
{"data":{"name":"bars"},"transform":[{"filter":"datum.side==='B'&&datum.type==='Type 1'&&indexof(['S 28','S 42','S 47','S 78','S 82','S 88','S 91'],datum.sample)>=0"}],"mark":{"type":"text","angle":270,"align":"right","baseline":"middle","dx":-35.5,"dy":5,"fontSize":14.5,"fontWeight":"normal","color":"#222222"},"encoding":{"text":{"field":"sample"}}},
{"data":{"name":"bars"},"transform":[{"filter":"datum.side==='L'&&datum.type==='Type 3'&&indexof(['S 28','S 42','S 47','S 78','S 82','S 88','S 91'],datum.sample)<0"}],"mark":{"type":"text","angle":210,"align":"left","baseline":"middle","dx":35,"dy":5,"fontSize":16,"fontWeight":"bold","color":"#111111"},"encoding":{"text":{"field":"sample"}}},
{"data":{"name":"bars"},"transform":[{"filter":"datum.side==='L'&&datum.type==='Type 3'&&indexof(['S 28','S 42','S 47','S 78','S 82','S 88','S 91'],datum.sample)>=0"}],"mark":{"type":"text","angle":210,"align":"left","baseline":"middle","dx":35,"dy":5,"fontSize":16,"fontWeight":"normal","color":"#222222"},"encoding":{"text":{"field":"sample"}}},
{"data":{"name":"bars"},"transform":[{"filter":"datum.side==='R'&&datum.type==='Type 3'&&indexof(['S 28','S 42','S 47','S 78','S 82','S 88','S 91'],datum.sample)<0"}],"mark":{"type":"text","angle":330,"align":"left","baseline":"middle","dx":9,"dy":3,"fontSize":16,"fontWeight":"bold","color":"#111111"},"encoding":{"text":{"field":"sample"}}},
{"data":{"name":"bars"},"transform":[{"filter":"datum.side==='R'&&datum.type==='Type 3'&&indexof(['S 28','S 42','S 47','S 78','S 82','S 88','S 91'],datum.sample)>=0"}],"mark":{"type":"text","angle":330,"align":"left","baseline":"middle","dx":9,"dy":3,"fontSize":16,"fontWeight":"normal","color":"#222222"},"encoding":{"text":{"field":"sample"}}},
{"data":{"name":"bars"},"transform":[{"filter":"datum.side==='B'&&datum.sample==='S 5'"}],"mark":{"type":"text","align":"right","baseline":"middle","dx":-8,"fontSize":12.5,"fontWeight":"bold","color":"#111111"},"encoding":{"text":{"field":"type"}}},
{"data":{"name":"bars"},"transform":[{"filter":"datum.side==='L'&&datum.sample==='S 5'"}],"mark":{"type":"text","angle":300,"align":"right","baseline":"middle","dx":-7,"fontSize":14.5,"fontWeight":"bold","color":"#111111"},"encoding":{"text":{"field":"type"}}},
{"data":{"name":"bars"},"transform":[{"filter":"datum.side==='R'&&datum.sample==='S 5'"}],"mark":{"type":"text","angle":60,"align":"right","baseline":"middle","dx":-5.5,"fontSize":14.5,"fontWeight":"bold","color":"#111111"},"encoding":{"text":{"field":"type"}}}
],
"resolve":{"scale":{"color":"independent"}}
}
